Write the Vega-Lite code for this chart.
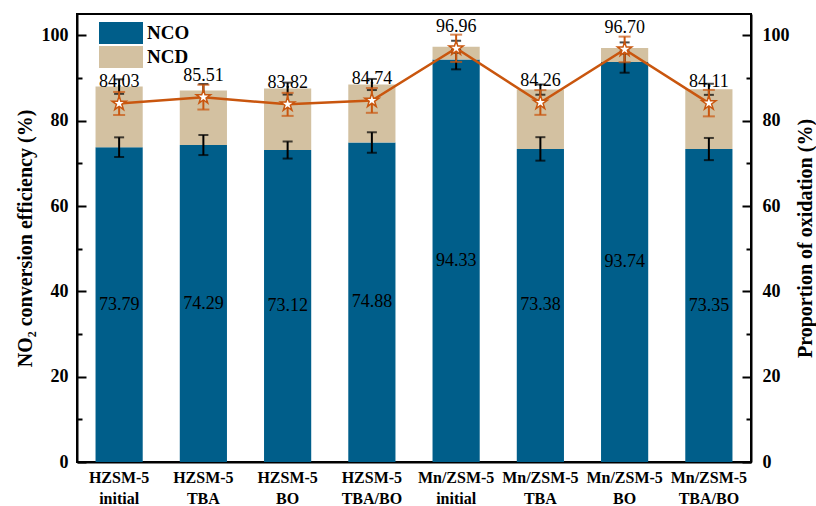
{
  "$schema": "https://vega.github.io/schema/vega-lite/v6.json",
  "width": 674,
  "height": 448,
  "autosize": {"type": "none"},
  "padding": {"left": 77, "top": 14, "right": 65, "bottom": 44},
  "config": {
    "font": "Liberation Serif",
    "view": {"stroke": "black", "strokeWidth": 2},
    "axis": {
      "grid": false,
      "domainColor": "black",
      "domainWidth": 2,
      "tickColor": "black",
      "tickWidth": 2,
      "labelColor": "black",
      "titleColor": "black",
      "labelFont": "Liberation Serif",
      "titleFont": "Liberation Serif",
      "labelFontWeight": "bold",
      "titleFontWeight": "bold"
    }
  },
  "data": {
    "values": [
      {"sample": "HZSM-5 initial", "NCO": 73.79, "NCD": 14.2, "NCO_err": 2.3, "total_err": 1.7, "oxidation": 84.03, "oxidation_err": 2.7},
      {"sample": "HZSM-5 TBA", "NCO": 74.29, "NCD": 12.8, "NCO_err": 2.35, "total_err": 1.5, "oxidation": 85.51, "oxidation_err": 2.9},
      {"sample": "HZSM-5 BO", "NCO": 73.12, "NCD": 14.4, "NCO_err": 2.0, "total_err": 1.4, "oxidation": 83.82, "oxidation_err": 2.7},
      {"sample": "HZSM-5 TBA/BO", "NCO": 74.88, "NCD": 13.6, "NCO_err": 2.4, "total_err": 1.3, "oxidation": 84.74, "oxidation_err": 2.9},
      {"sample": "Mn/ZSM-5 initial", "NCO": 94.33, "NCD": 3.0, "NCO_err": 2.3, "total_err": 1.4, "oxidation": 96.96, "oxidation_err": 3.2},
      {"sample": "Mn/ZSM-5 TBA", "NCO": 73.38, "NCD": 13.9, "NCO_err": 2.75, "total_err": 1.2, "oxidation": 84.26, "oxidation_err": 2.9},
      {"sample": "Mn/ZSM-5 BO", "NCO": 93.74, "NCD": 3.3, "NCO_err": 2.5, "total_err": 1.3, "oxidation": 96.70, "oxidation_err": 3.0},
      {"sample": "Mn/ZSM-5 TBA/BO", "NCO": 73.35, "NCD": 14.0, "NCO_err": 2.6, "total_err": 1.3, "oxidation": 84.11, "oxidation_err": 3.1}
    ]
  },
  "transform": [
    {"calculate": "datum.NCO + datum.NCD", "as": "total"},
    {"calculate": "datum.NCO / 2", "as": "NCO_mid"}
  ],
  "encoding": {
    "x": {
      "field": "sample",
      "type": "nominal",
      "sort": null,
      "scale": {"paddingInner": 0, "paddingOuter": 0},
      "axis": {
        "title": null,
        "labelAngle": 0,
        "labelExpr": "split(datum.label, ' ')",
        "labelFontSize": 16,
        "labelLineHeight": 21,
        "tickSize": -8,
        "labelPadding": 15
      }
    }
  },
  "layer": [
    {
      "layer": [
        {
          "transform": [{"fold": ["NCO", "NCD"], "as": ["part", "value"]}],
          "mark": {"type": "bar", "width": {"band": 0.56}},
          "encoding": {
            "y": {
              "field": "value",
              "type": "quantitative",
              "stack": "zero",
              "scale": {"domain": [0, 105], "nice": false},
              "axis": {
                "orient": "left",
                "values": [0, 20, 40, 60, 80, 100],
                "tickSize": -9,
                "labelPadding": 18,
                "labelFontSize": 18,
                "title": "NO₂ conversion efficiency (%)",
                "titleFontSize": 20,
                "titlePadding": 6
              }
            },
            "color": {
              "field": "part",
              "type": "nominal",
              "scale": {"domain": ["NCO", "NCD"], "range": ["#005E8A", "#D3C1A1"]},
              "legend": {
                "orient": "none",
                "legendX": 22,
                "legendY": 8,
                "title": null,
                "padding": 0,
                "symbolType": "M-1,-0.5H1V0.5H-1Z",
                "symbolSize": 1936,
                "symbolStrokeWidth": 0,
                "symbolOpacity": 1,
                "clipHeight": 22,
                "labelFont": "Liberation Serif",
                "labelFontSize": 19,
                "labelFontWeight": "bold",
                "labelColor": "black",
                "labelOffset": 4,
                "rowPadding": 2
              }
            },
            "order": {"field": "part", "sort": "descending"}
          }
        },
        {
          "mark": {"type": "text", "fontSize": 18, "color": "black", "dy": -21, "baseline": "middle"},
          "encoding": {
            "y": {"field": "oxidation", "type": "quantitative", "scale": {"domain": [0, 105], "nice": false}, "axis": null},
            "text": {"field": "oxidation", "type": "quantitative", "format": ".2f"}
          }
        },
        {
          "mark": {"type": "errorbar", "color": "black", "thickness": 2, "ticks": {"size": 10, "thickness": 2, "color": "black"}},
          "encoding": {
            "y": {"field": "NCO", "type": "quantitative", "scale": {"domain": [0, 105], "nice": false}, "axis": null},
            "yError": {"field": "NCO_err"}
          }
        },
        {
          "mark": {"type": "errorbar", "color": "black", "thickness": 2, "ticks": {"size": 10, "thickness": 2, "color": "black"}},
          "encoding": {
            "y": {"field": "total", "type": "quantitative", "scale": {"domain": [0, 105], "nice": false}, "axis": null},
            "yError": {"field": "total_err"}
          }
        },
        {
          "mark": {"type": "text", "fontSize": 18, "color": "black", "baseline": "middle"},
          "encoding": {
            "y": {
              "field": "NCO_mid",
              "type": "quantitative",
              "scale": {"domain": [0, 105], "nice": false},
              "axis": {
                "orient": "left",
                "values": [10, 30, 50, 70, 90],
                "labels": false,
                "domain": false,
                "tickSize": -5,
                "title": null
              }
            },
            "text": {"field": "NCO", "type": "quantitative", "format": ".2f"}
          }
        }
      ],
      "resolve": {"axis": {"y": "independent"}}
    },
    {
      "layer": [
        {
          "mark": {"type": "line", "color": "#C9560E", "strokeWidth": 2.5},
          "encoding": {
            "y": {
              "field": "oxidation",
              "type": "quantitative",
              "scale": {"domain": [0, 105], "nice": false},
              "axis": {
                "orient": "right",
                "values": [0, 20, 40, 60, 80, 100],
                "tickSize": -9,
                "labelPadding": 20,
                "labelFontSize": 18,
                "title": "Proportion of oxidation (%)",
                "titleFontSize": 20,
                "titleAngle": 270,
                "titleBaseline": "top",
                "titlePadding": 6
              }
            }
          }
        },
        {
          "mark": {"type": "errorbar", "color": "#C9560E", "thickness": 2, "ticks": {"size": 12, "thickness": 2, "color": "#C9560E"}},
          "encoding": {
            "y": {"field": "oxidation", "type": "quantitative", "scale": {"domain": [0, 105], "nice": false}, "axis": null},
            "yError": {"field": "oxidation_err"}
          }
        },
        {
          "mark": {
            "type": "point",
            "shape": "M0,-1L0.225,-0.309L0.951,-0.309L0.363,0.118L0.588,0.809L0,0.382L-0.588,0.809L-0.363,0.118L-0.951,-0.309L-0.225,-0.309Z",
            "filled": true,
            "fill": "white",
            "stroke": "#C9560E",
            "strokeWidth": 1.5,
            "size": 220,
            "opacity": 1
          },
          "encoding": {
            "y": {
              "field": "oxidation",
              "type": "quantitative",
              "scale": {"domain": [0, 105], "nice": false},
              "axis": {
                "orient": "right",
                "values": [10, 30, 50, 70, 90],
                "labels": false,
                "domain": false,
                "tickSize": -5,
                "title": null
              }
            }
          }
        }
      ],
      "resolve": {"axis": {"y": "independent"}}
    }
  ],
  "resolve": {"scale": {"y": "independent"}}
}
